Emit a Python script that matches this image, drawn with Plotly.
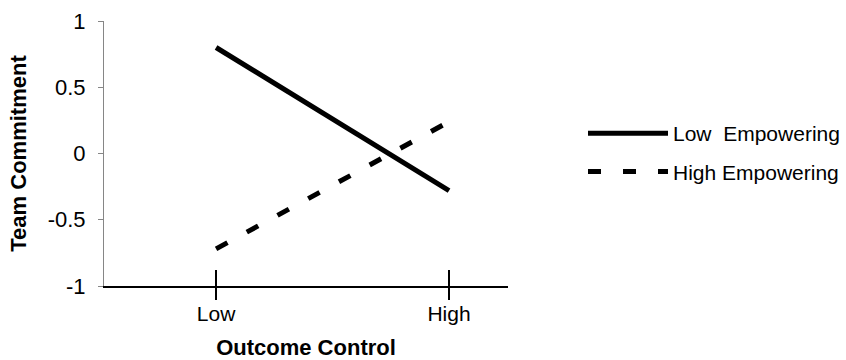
import plotly.graph_objects as go

# Data
x_positions = [0, 1]
x_labels = ["Low", "High"]
low_empowering = [0.80, -0.28]
high_empowering = [-0.72, 0.24]
series_names = ["Low  Empowering", "High Empowering"]
y_ticks = [-1, -0.5, 0, 0.5, 1]
y_ticktext = ["-1", "-0.5", "0", "0.5", "1"]

FONT = "Liberation Sans, Arial, sans-serif"

fig = go.Figure()
fig.add_trace(go.Scatter(
    x=x_positions, y=low_empowering, mode="lines", name=series_names[0],
    line=dict(color="black", width=5), legendgroup="a",
))
fig.add_trace(go.Scatter(
    x=x_positions, y=high_empowering, mode="lines", name=series_names[1],
    line=dict(color="black", width=5, dash="13px,22px"), legendgroup="b",
))
# invisible trace to carry the second (outside-tick) x axis
fig.add_trace(go.Scatter(
    x=x_positions, y=[None, None], xaxis="x2", yaxis="y", showlegend=False,
    hoverinfo="skip",
))

xrange = [-0.481, 1.253]
fig.update_layout(
    width=846, height=360,
    margin=dict(l=104, r=338, t=21, b=74),
    paper_bgcolor="white", plot_bgcolor="white",
    font=dict(family=FONT, size=22, color="black"),
    showlegend=True,
    legend=dict(
        xref="container", yref="container",
        x=583 / 846, y=1 - 113 / 360, xanchor="left", yanchor="top",
        font=dict(family=FONT, size=21, color="black"),
        itemwidth=80, tracegroupgap=8, bgcolor="rgba(0,0,0,0)",
    ),
    xaxis=dict(
        range=xrange, tickvals=x_positions, ticktext=x_labels,
        showgrid=False, zeroline=False, automargin=False,
        showline=True, linecolor="black", linewidth=2,
        ticks="inside", ticklen=16, tickwidth=2, tickcolor="black",
        tickfont=dict(size=21), ticklabelstandoff=8,
        title=dict(text="<b>Outcome Control</b>", font=dict(size=22), standoff=20),
    ),
    xaxis2=dict(
        range=xrange, overlaying="x", anchor="y", side="bottom",
        tickvals=x_positions, showticklabels=False, automargin=False,
        showgrid=False, zeroline=False, showline=False,
        ticks="outside", ticklen=13, tickwidth=2, tickcolor="black",
    ),
    yaxis=dict(
        range=[-1, 1], tickvals=y_ticks, ticktext=y_ticktext,
        showgrid=False, zeroline=False, automargin=False,
        showline=True, linecolor="#868686", linewidth=1,
        ticks="outside", ticklen=5, tickwidth=1, tickcolor="#868686",
        tickfont=dict(size=22), ticklabelstandoff=8,
        title=dict(text="<b>Team Commitment</b>", font=dict(size=22), standoff=14),
    ),
)

fig.write_html("out.html")
